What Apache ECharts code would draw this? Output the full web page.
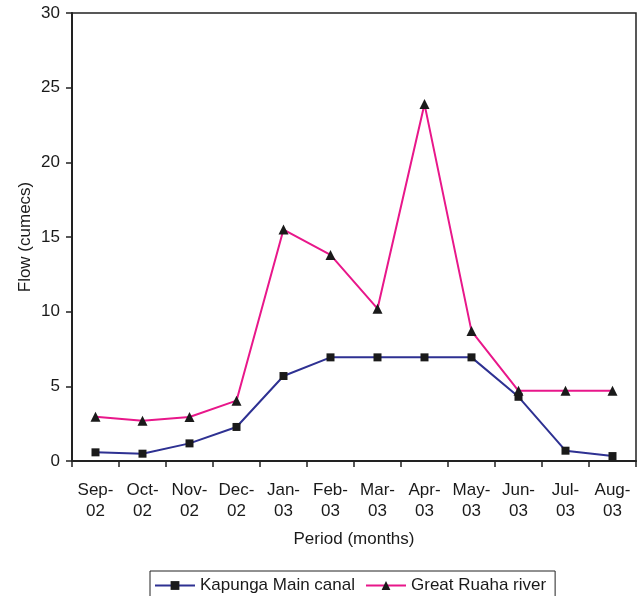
<!DOCTYPE html>
<html>
<head>
<meta charset="utf-8">
<script src="https://cdn.jsdelivr.net/npm/echarts@6/dist/echarts.min.js"></script>
<style>
  html, body { margin: 0; padding: 0; background: #fff; }
  #main { width: 640px; height: 596px; }
</style>
</head>
<body>
<div id="main"></div>
<script>
var months = ['Sep-\n02', 'Oct-\n02', 'Nov-\n02', 'Dec-\n02', 'Jan-\n03', 'Feb-\n03',
              'Mar-\n03', 'Apr-\n03', 'May-\n03', 'Jun-\n03', 'Jul-\n03', 'Aug-\n03'];
var kapunga = [0.58, 0.49, 1.18, 2.28, 5.69, 6.94, 6.94, 6.94, 6.94, 4.3, 0.69, 0.33];
var ruaha = [2.97, 2.7, 2.95, 4.04, 15.5, 13.8, 10.2, 23.9, 8.7, 4.7, 4.7, 4.7];

var myChart = echarts.init(document.getElementById('main'));
var txt = { color: '#1a1a1a', fontFamily: 'Liberation Sans, Arial, sans-serif', fontSize: 17 };

var option = {
  animation: false,
  grid: {
    left: 72, right: 4, top: 13, bottom: 135,
    show: true, borderColor: '#222', borderWidth: 1.5
  },
  legend: {
    left: 150, top: 571,
    padding: [6, 9, 8, 4],
    borderColor: '#222', borderWidth: 1,
    itemWidth: 40, itemHeight: 11, itemGap: 10,
    textStyle: txt,
    data: ['Kapunga Main canal', 'Great Ruaha river']
  },
  xAxis: {
    type: 'category',
    data: months,
    name: 'Period (months)',
    nameLocation: 'middle',
    nameGap: 70,
    nameMoveOverlap: false,
    nameTextStyle: txt,
    axisLine: { lineStyle: { color: '#222', width: 2 } },
    axisTick: { show: true, length: 6, lineStyle: { color: '#222', width: 1.5 } },
    axisLabel: Object.assign({ margin: 19, lineHeight: 21, interval: 0 }, txt),
    splitLine: { show: false }
  },
  yAxis: {
    type: 'value',
    min: 0, max: 30, interval: 5,
    name: 'Flow (cumecs)',
    nameLocation: 'middle',
    nameGap: 38,
    nameMoveOverlap: false,
    nameTextStyle: txt,
    axisLine: { show: true, lineStyle: { color: '#222', width: 2 } },
    axisTick: { show: true, length: 6, lineStyle: { color: '#222', width: 1.5 } },
    axisLabel: Object.assign({ margin: 12 }, txt),
    splitLine: { show: false }
  },
  series: [
    {
      name: 'Kapunga Main canal',
      type: 'line',
      data: kapunga,
      symbol: 'rect',
      symbolSize: 8,
      itemStyle: { color: '#1a1a1a' },
      lineStyle: { color: '#2e3192', width: 2 }
    },
    {
      name: 'Great Ruaha river',
      type: 'line',
      data: ruaha,
      symbol: 'triangle',
      symbolSize: 10,
      itemStyle: { color: '#1a1a1a' },
      lineStyle: { color: '#e8178a', width: 2 }
    }
  ]
};

option && myChart.setOption(option);
</script>
</body>
</html>
